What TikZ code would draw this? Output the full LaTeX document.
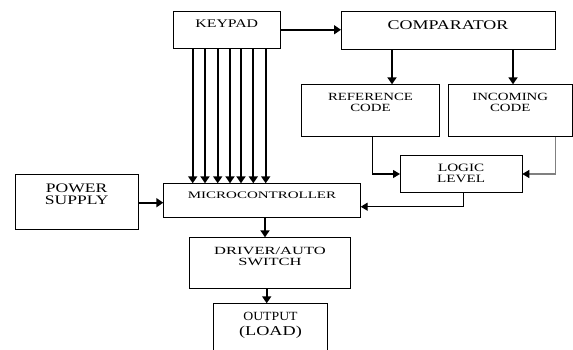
\documentclass[tikz,border=0pt]{standalone}
\usepackage{fontspec}
\setmainfont{Liberation Serif}
\newfontfamily\boxfont[FakeStretch=1.35]{Liberation Serif}
\newfontfamily\widefont[FakeStretch=1.5]{Liberation Serif}
\newfontfamily\narrowfont[FakeStretch=1.1]{Liberation Serif}
\newcommand{\fsz}[2]{\fontsize{#1}{#2}\selectfont}
\usetikzlibrary{arrows.meta}

\begin{document}
\begin{tikzpicture}[
  x=1pt, y=-1pt,
  block/.style={draw, line width=0.9pt, inner sep=0pt, outer sep=0pt},
  title/.style={anchor=north, align=center, inner xsep=0pt, inner ysep=9pt},
  arrow/.style={line width=1.8pt, -{Triangle[length=7pt, width=9pt]}},
  thin arrow/.style={line width=1.1pt, -{Triangle[length=7pt, width=8pt, color=black]}}
]
\useasboundingbox (0,0) rectangle (573,349);
\clip (0,0) rectangle (573,349);

% Top row
\node[block, minimum width=106.5pt, minimum height=37.5pt,
  label={[title, inner ysep=8.3pt, font=\boxfont\fsz{11.7}{11}]north:KEYPAD}] (keypad) at (226.75,29.75) {};
\node[block, minimum width=214pt, minimum height=38pt,
  label={[title, font=\boxfont\fsz{13.3}{13}]north:COMPARATOR}] (comparator) at (448,30) {};

% Codes
\node[block, minimum width=138pt, minimum height=52.4pt,
  label={[title, font=\boxfont\fsz{11}{10.7}]north:REFERENCE\\CODE}] (refcode) at (370.5,110.5) {};
\node[block, minimum width=123.5pt, minimum height=52.4pt,
  label={[title, font=\boxfont\fsz{11}{10.7}]north:INCOMING\\CODE}] (incoming) at (510.25,110.5) {};
\node[block, minimum width=122.3pt, minimum height=37.3pt,
  label={[title, font=\boxfont\fsz{11.2}{10.3}]north:LOGIC\\LEVEL}] (logic) at (461.15,174) {};

% Middle row
\node[block, minimum width=123.3pt, minimum height=55pt,
  label={[title, font=\boxfont\fsz{13}{12.7}]north:POWER\\SUPPLY}] (power) at (76.65,201.8) {};
\node[block, minimum width=197.4pt, minimum height=34pt,
  label={[title, inner ysep=8.4pt, font=\widefont\fsz{10}{10}]north:MICROCONTROLLER}] (mcu) at (262,200.3) {};

% Bottom
\node[block, minimum width=161.4pt, minimum height=51pt,
  label={[title, inner ysep=9.4pt, font=\widefont\fsz{11}{11}]north:DRIVER/AUTO\\SWITCH}] (driver) at (270,262.8) {};
\node[block, minimum width=114.4pt, minimum height=56.7pt,
  label={[title, inner ysep=8.4pt, font=\fsz{12}{15}]north:{\narrowfont\fsz{12.5}{15}OUTPUT}\\{\boxfont\fsz{13.5}{15}(LOAD)}}] (output) at (270.5,331.65) {};

% Connections
\draw[arrow, line width=1.5pt] (keypad.east) -- (keypad.east -| comparator.west);

\foreach \x in {192.7,205,217.7,230,241,253.3,265.7}
  \draw[arrow] (keypad.south -| \x,0) -- (mcu.north -| \x,0);

\draw[arrow] (comparator.south -| 392,0) -- (refcode.north -| 392,0);
\draw[arrow] (comparator.south -| 513,0) -- (incoming.north -| 513,0);

\draw[thin arrow] (refcode.south -| 372.7,0) |- (logic.west);
\draw[thin arrow, draw=gray] (incoming.south -| 555.7,0) |- (logic.east);
\draw[thin arrow, line width=1.4pt] (logic.south -| 463.3,0) |- (mcu.east |- 0,206.7);

\draw[arrow] (power.east |- 0,202.7) -- (mcu.west |- 0,202.7);
\draw[arrow] (mcu.south -| 265,0) -- (driver.north -| 265,0);
\draw[arrow] (driver.south -| 266.7,0) -- (output.north -| 266.7,0);

\end{tikzpicture}
\end{document}
